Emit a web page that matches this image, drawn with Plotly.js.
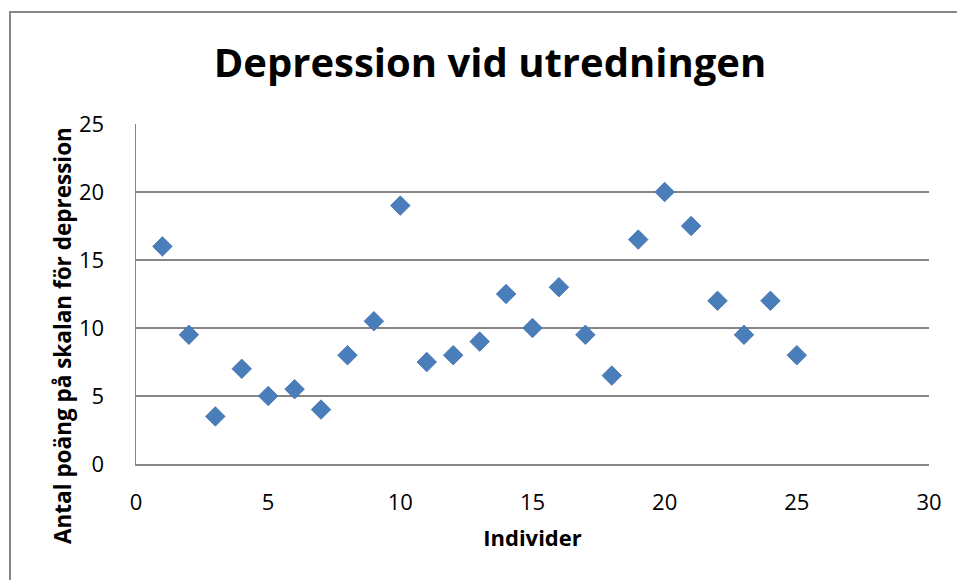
<!DOCTYPE html>
<html>
<head>
<meta charset="utf-8">
<script src="https://cdn.plot.ly/plotly-3.0.1.min.js"></script>
<style>
html,body{margin:0;padding:0;background:#fff;overflow:hidden;}
#frame{position:absolute;left:9px;top:11px;width:1000px;height:1000px;border:2px solid #868686;box-sizing:border-box;}
#chart{position:absolute;left:0;top:0;width:957px;height:580px;}
</style>
</head>
<body>
<div id="frame"></div>
<div id="chart"></div>
<script>
const individer = [1,2,3,4,5,6,7,8,9,10,11,12,13,14,15,16,17,18,19,20,21,22,23,24,25];
const poang = [16,9.5,3.5,7,5,5.5,4,8,10.5,19,7.5,8,9,12.5,10,13,9.5,6.5,16.5,20,17.5,12,9.5,12,8];
const xTicks = [0,5,10,15,20,25,30];
const yTicks = [0,5,10,15,20,25];
const chartTitle = 'Depression vid utredningen';
const xTitle = 'Individer';
const yTitle = 'Antal poäng på skalan för depression';

const font = '"Open Sans", Lato, sans-serif';
const data = [{
  type: 'scatter', mode: 'markers',
  x: individer, y: poang,
  marker: {symbol: 'diamond', size: 15, color: '#4a7ebb', line: {width: 0.8, color: '#3f6fa8'}},
  hoverinfo: 'x+y'
}];
const layout = {
  width: 957, height: 580,
  margin: {l: 136, r: 28, t: 124, b: 116},
  paper_bgcolor: 'rgba(0,0,0,0)', plot_bgcolor: 'rgba(0,0,0,0)',
  showlegend: false,
  font: {family: font, color: '#000'},
  title: {text: '<b>' + chartTitle + '</b>', font: {family: font, size: 40, color: '#000'},
          x: 490/957, xanchor: 'center', xref: 'container', yref: 'container', y: 1 - 63/580, yanchor: 'middle'},
  xaxis: {range: [0, 30], tickvals: xTicks, ticktext: xTicks.map(String), showgrid: false, zeroline: false,
          showline: true, linecolor: '#868686', linewidth: 1.5, ticks: '', ticklabelstandoff: 18,
          tickfont: {size: 22, family: font, color: '#000'},
          title: {text: '<b>' + xTitle + '</b>', font: {size: 22, family: font, color: '#000'}, standoff: 15}},
  yaxis: {range: [0, 25], tickvals: yTicks, ticktext: yTicks.map(String), showgrid: true, gridcolor: '#868686', gridwidth: 1.5,
          zeroline: false, showline: true, linecolor: '#868686', linewidth: 1.5, ticks: '', ticklabelstandoff: 26,
          tickfont: {size: 22, family: font, color: '#000'}},
  annotations: [{text: '<b>' + yTitle + '</b>', textangle: -90, xref: 'paper', yref: 'paper',
                 x: (62 - 136) / 793, y: (464 - 336) / 340, xanchor: 'center', yanchor: 'middle', showarrow: false,
                 font: {size: 22.5, family: font, color: '#000'}}]
};
Plotly.newPlot('chart', data, layout, {displayModeBar: false, staticPlot: true});
</script>
</body>
</html>
